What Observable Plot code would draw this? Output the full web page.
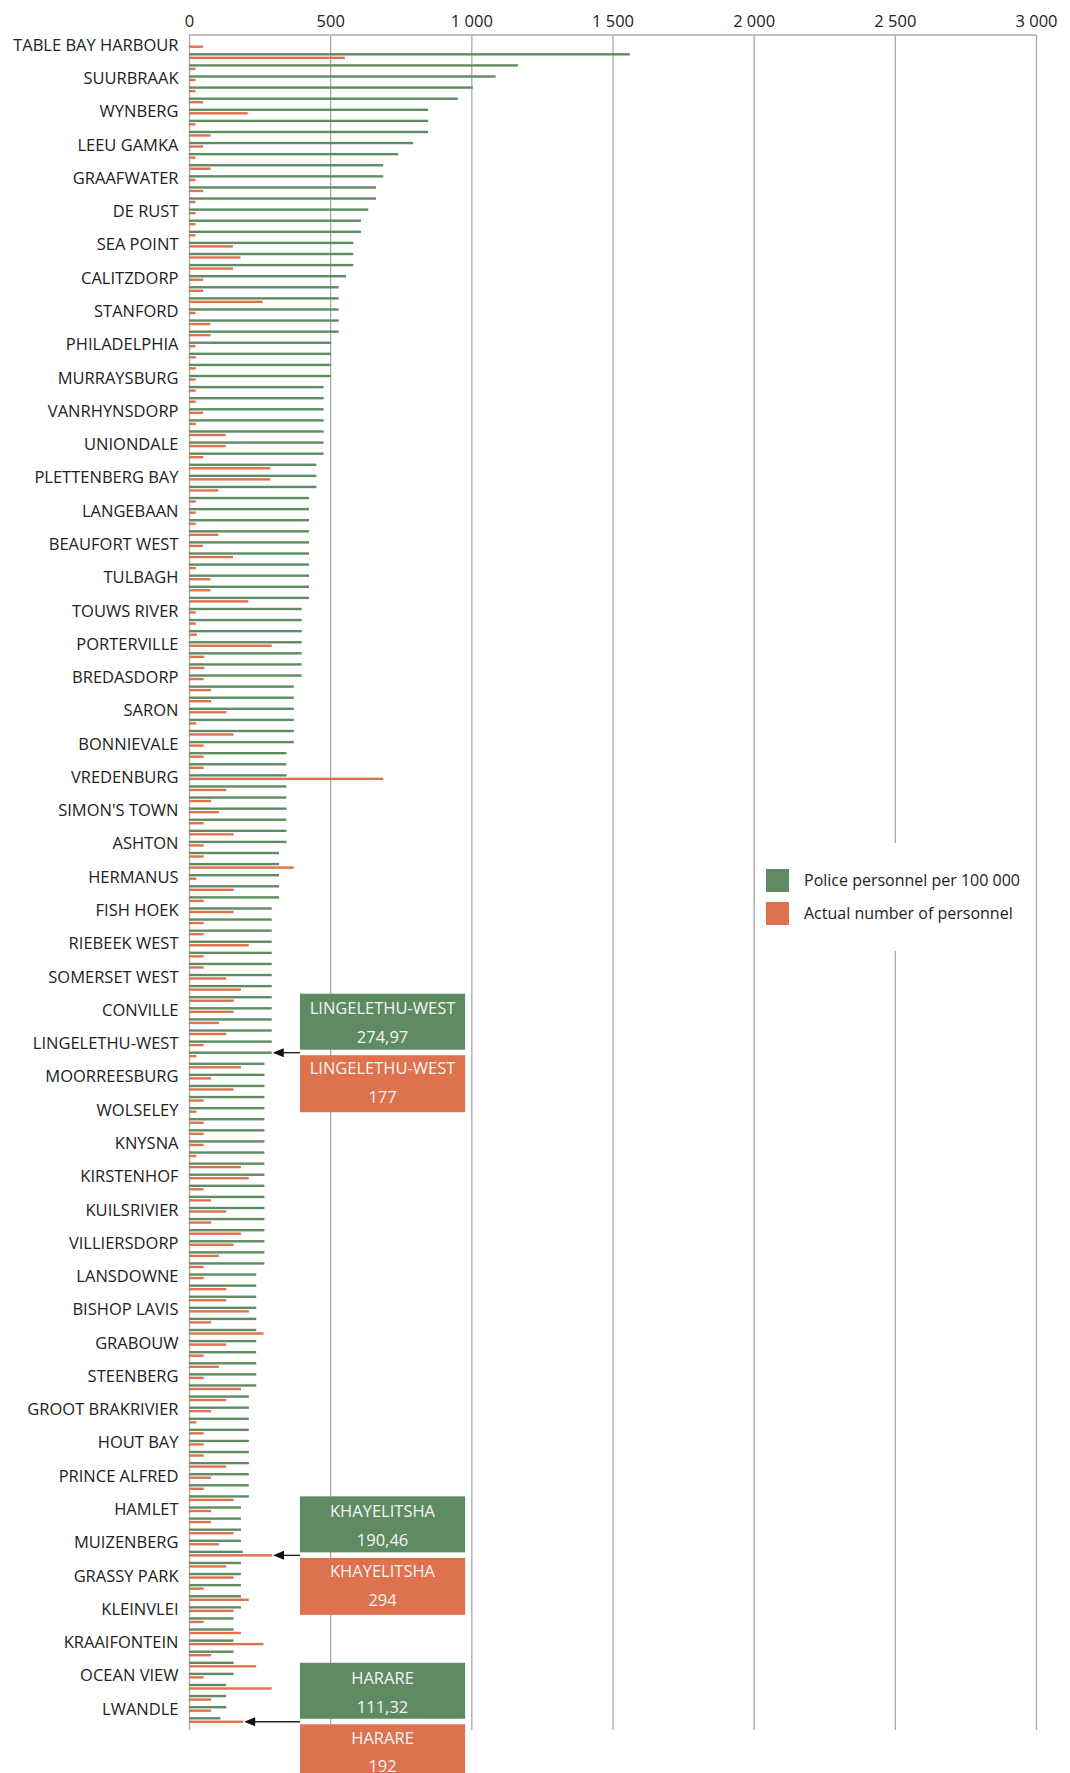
<!DOCTYPE html>
<html>
<head>
<meta charset="utf-8">
<script src="https://cdn.jsdelivr.net/npm/d3@7"></script>
<script src="https://cdn.jsdelivr.net/npm/@observablehq/plot@0.6"></script>
<style>
  body { margin: 0; background: #ffffff; }
  #chart { position: relative; width: 1070px; height: 1773px; overflow: hidden; }
</style>
</head>
<body>
<div id="chart"></div>
<script>
// ---------- DATA ----------
// Every third station (the ones labelled on the axis), in chart order
const stationLabels = [
  "TABLE BAY HARBOUR", "SUURBRAAK", "WYNBERG", "LEEU GAMKA", "GRAAFWATER",
  "DE RUST", "SEA POINT", "CALITZDORP", "STANFORD", "PHILADELPHIA",
  "MURRAYSBURG", "VANRHYNSDORP", "UNIONDALE", "PLETTENBERG BAY", "LANGEBAAN",
  "BEAUFORT WEST", "TULBAGH", "TOUWS RIVER", "PORTERVILLE", "BREDASDORP",
  "SARON", "BONNIEVALE", "VREDENBURG", "SIMON'S TOWN", "ASHTON",
  "HERMANUS", "FISH HOEK", "RIEBEEK WEST", "SOMERSET WEST", "CONVILLE",
  "LINGELETHU-WEST", "MOORREESBURG", "WOLSELEY", "KNYSNA", "KIRSTENHOF",
  "KUILSRIVIER", "VILLIERSDORP", "LANSDOWNE", "BISHOP LAVIS", "GRABOUW",
  "STEENBERG", "GROOT BRAKRIVIER", "HOUT BAY", "PRINCE ALFRED", "HAMLET",
  "MUIZENBERG", "GRASSY PARK", "KLEINVLEI", "KRAAIFONTEIN", "OCEAN VIEW",
  "LWANDLE"
];

// Police personnel per 100 000 (one value per station, top to bottom)
const personnelPer100k = [
  null, 1561, 1165, 1086, 1005, 952, 847, 847, 847, 794,
  741, 688, 688, 662, 662, 635, 609, 609, 582, 582,
  582, 556, 530, 530, 530, 530, 530, 503, 503, 503,
  503, 477, 477, 477, 477, 477, 477, 477, 451, 451,
  451, 425, 425, 425, 425, 425, 425, 425, 425, 425,
  425, 399, 399, 399, 399, 399, 399, 399, 371, 371,
  371, 371, 371, 371, 345, 345, 345, 345, 345, 345,
  345, 345, 345, 319, 319, 319, 319, 319, 293, 293,
  293, 293, 293, 293, 293, 293, 293, 293, 293, 293,
  293, 293, 267, 267, 267, 267, 267, 267, 267, 267,
  267, 267, 267, 267, 267, 267, 267, 267, 267, 267,
  267, 238, 238, 238, 238, 238, 238, 238, 238, 238,
  238, 238, 212, 212, 212, 212, 212, 212, 212, 212,
  212, 212, 184, 184, 184, 184, 190.46, 184, 184, 184,
  184, 184, 158, 158, 158, 158, 158, 158, 132, 132,
  132, 111.32
];

// Actual number of personnel (one value per station, top to bottom)
const actualPersonnel = [
  50, 552, 23, 23, 23, 50, 208, 23, 76, 50,
  23, 76, 23, 50, 23, 23, 23, 23, 156, 182,
  156, 50, 50, 261, 23, 76, 76, 23, 24, 24,
  24, 24, 24, 50, 24, 130, 130, 50, 288, 288,
  104, 24, 24, 24, 104, 50, 156, 24, 76, 76,
  210, 24, 24, 28, 293, 54, 54, 52, 78, 78,
  132, 26, 158, 52, 52, 52, 688, 132, 78, 106,
  52, 158, 52, 52, 371, 26, 158, 52, 158, 52,
  52, 212, 52, 52, 132, 184, 158, 158, 106, 132,
  52, 26, 184, 78, 158, 52, 26, 52, 52, 52,
  26, 184, 212, 52, 78, 132, 78, 184, 158, 106,
  52, 52, 132, 132, 212, 78, 264, 132, 52, 106,
  52, 184, 132, 78, 26, 52, 52, 52, 132, 78,
  52, 158, 78, 78, 158, 106, 294, 132, 158, 52,
  212, 158, 52, 184, 264, 78, 238, 52, 293, 78,
  78, 192
];

const xTicks = [0, 500, 1000, 1500, 2000, 2500, 3000];
const seriesNames = ["Police personnel per 100 000", "Actual number of personnel"];

// Call-outs
const calloutNames   = ["LINGELETHU-WEST", "KHAYELITSHA", "HARARE"];
const calloutRow     = [91, 136, 151];
const calloutPer100k = ["274,97", "190,46", "111,32"];
const calloutActual  = ["177", "294", "192"];
const calloutSeries  = ["per100k", "actual", "actual"];

// ---------- STYLE ----------
const GREEN = "#5f8b63";
const ORANGE = "#de714e";
const GRID = "#a9a9a9";
const TEXT = "#222222";
const FONT = "'Open Sans', 'Noto Sans', sans-serif";

const rows = personnelPer100k.map((v, i) => ({row: i, per100k: v, actual: actualPersonnel[i]}));
const rowIds = rows.map(d => d.row);
const fmt = d => d3.format(",")(d).replace(/,/g, " ");

const chart = Plot.plot({
  width: 1070,
  height: 1773,
  marginLeft: 189,
  marginRight: 34,
  marginTop: 35,
  marginBottom: 43,
  style: {fontFamily: FONT, fontSize: "16.5px", color: TEXT, background: "#ffffff", overflow: "hidden"},
  x: {
    domain: [0, 3000], axis: "top", ticks: xTicks, tickFormat: fmt,
    tickSize: 0, tickPadding: 9, label: null
  },
  y: {
    type: "band", domain: rowIds, paddingInner: 0, paddingOuter: 0.4, round: false,
    tickSize: 0, tickPadding: 11, label: null,
    tickFormat: i => (i % 3 === 0 ? stationLabels[i / 3] : "")
  },
  marks: [
    Plot.ruleX(xTicks, {stroke: GRID, strokeWidth: 1.3}),
    Plot.barX(rows.filter(d => d.per100k != null), {x: "per100k", y: "row", fill: GREEN, insetTop: 2.6, insetBottom: 6.1}),
    Plot.barX(rows, {x: "actual", y: "row", fill: ORANGE, insetTop: 6.1, insetBottom: 2.6})
  ]
});

document.getElementById("chart").appendChild(chart);

// ---------- DECORATIONS (through the plot's own scales) ----------
const xs = chart.scale("x");
const ys = chart.scale("y");
const bw = ys.bandwidth;
const svg = d3.select(chart);

// top frame line
svg.append("line")
  .attr("x1", xs.apply(0)).attr("x2", xs.apply(3000))
  .attr("y1", 35).attr("y2", 35)
  .attr("stroke", GRID).attr("stroke-width", 1.3);

// legend (white box over grid)
const lg = svg.append("g").attr("font-family", FONT).attr("font-size", 16).attr("fill", TEXT).attr("text-anchor", "start");
lg.append("rect")
  .attr("x", xs.apply(2000) + 3).attr("y", 843)
  .attr("width", xs.apply(3000) - xs.apply(2000) - 6).attr("height", 108)
  .attr("fill", "#ffffff");
[GREEN, ORANGE].forEach((c, k) => {
  lg.append("rect").attr("x", 766).attr("y", 869 + k * 33).attr("width", 23).attr("height", 23).attr("fill", c);
  lg.append("text").attr("x", 804).attr("y", 880.5 + k * 33).attr("dy", "0.35em")
    .attr("text-anchor", "start").text(seriesNames[k]);
});

// call-outs
const boxX1 = xs.apply(393), boxX2 = xs.apply(978);
calloutNames.forEach((name, k) => {
  const r = calloutRow[k];
  const isGreen = calloutSeries[k] === "per100k";
  const ay = ys.apply(r) + bw / 2 + (isGreen ? -1.75 : 1.75);
  const tipX = xs.apply(isGreen ? personnelPer100k[r] : actualPersonnel[r]) + 1;
  const g = svg.append("g");
  // arrow
  g.append("line").attr("x1", boxX1).attr("x2", tipX + 9).attr("y1", ay).attr("y2", ay)
    .attr("stroke", "#222").attr("stroke-width", 1.4);
  g.append("path")
    .attr("d", `M${tipX},${ay} L${tipX + 11},${ay - 4.5} L${tipX + 11},${ay + 4.5} Z`)
    .attr("fill", "#111");
  // boxes
  g.append("rect").attr("x", boxX1).attr("y", ay - 59).attr("width", boxX2 - boxX1).attr("height", 56).attr("fill", GREEN);
  g.append("rect").attr("x", boxX1).attr("y", ay + 2.5).attr("width", boxX2 - boxX1).attr("height", 57).attr("fill", ORANGE);
  const cx = (boxX1 + boxX2) / 2;
  const lines = [[name, ay - 44], [calloutPer100k[k], ay - 15], [name, ay + 16], [calloutActual[k], ay + 44.5]];
  lines.forEach(([t, y]) => {
    g.append("text").attr("x", cx).attr("y", y).attr("dy", "0.35em")
      .attr("text-anchor", "middle").attr("font-family", FONT).attr("font-size", 16.5)
      .attr("fill", "#f4f4f4").text(t);
  });
});
</script>
</body>
</html>
